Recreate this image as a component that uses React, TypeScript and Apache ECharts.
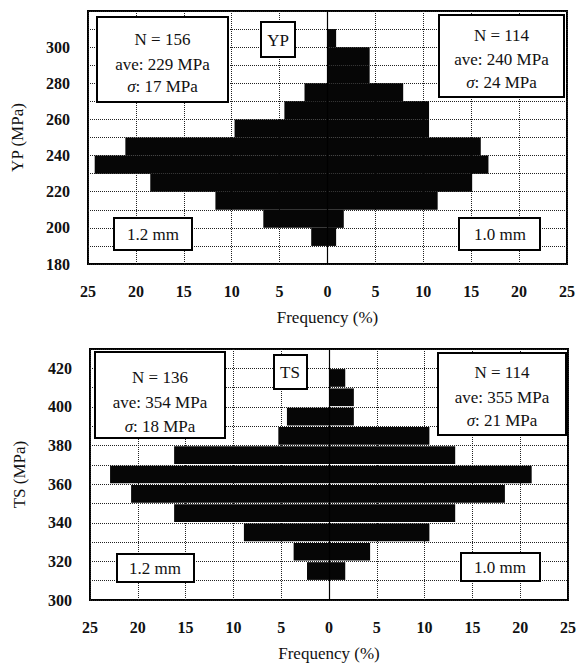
import React, { useEffect, useRef } from "react";
import * as echarts from "echarts";

// ---- data ----
const BIN_WIDTH = 10;
const YP_BINS = [190, 200, 210, 220, 230, 240, 250, 260, 270, 280, 290, 300];
const YP_12MM = [1.7, 6.7, 11.7, 18.5, 24.3, 21.1, 9.7, 4.5, 2.4, 0, 0, 0];
const YP_10MM = [0.9, 1.7, 11.5, 15.1, 16.8, 16.0, 10.6, 10.6, 7.9, 4.4, 4.4, 0.9];
const TS_BINS = [310, 320, 330, 340, 350, 360, 370, 380, 390, 400, 410];
const TS_12MM = [2.3, 3.7, 8.9, 16.2, 20.7, 22.9, 16.2, 5.3, 4.4, 0, 0];
const TS_10MM = [1.7, 4.3, 10.5, 13.2, 18.4, 21.2, 13.2, 10.5, 2.6, 2.6, 1.7];
const FREQ_TICKS = [-25, 25, 5];
const YP_RANGE = [180, 320];
const TS_RANGE = [300, 430];
const YP_STATS_12 = ["N = 156", "ave: 229 MPa", "17 MPa"];
const YP_STATS_10 = ["N = 114", "ave: 240 MPa", "24 MPa"];
const TS_STATS_12 = ["N = 136", "ave: 354 MPa", "18 MPa"];
const TS_STATS_10 = ["N = 114", "ave: 355 MPa", "21 MPa"];

const FONT = "Liberation Serif";

function buildBars(bins: number[], left: number[], right: number[]) {
  const out: number[][] = [];
  bins.forEach((lo, i) => {
    if (left[i] > 0) out.push([lo, lo + BIN_WIDTH, -left[i], 0]);
    if (right[i] > 0) out.push([lo, lo + BIN_WIDTH, 0, right[i]]);
  });
  return out;
}

const makeRender = (gap: number) => (params: any, api: any) => {
  const p0 = api.coord([api.value(2), api.value(1)]);
  const p1 = api.coord([api.value(3), api.value(0)]);
  return {
    type: "rect",
    shape: {
      x: p0[0],
      y: p0[1] + gap,
      width: p1[0] - p0[0],
      height: p1[1] - p0[1] - 2 * gap,
    },
    style: { fill: "#060606" },
  };
};

function xAxisCfg(gridIndex: number) {
  return {
    type: "value",
    gridIndex,
    min: FREQ_TICKS[0],
    max: FREQ_TICKS[1],
    interval: FREQ_TICKS[2],
    axisLine: { show: false },
    axisTick: { show: false },
    splitLine: { show: true, lineStyle: { type: "dotted", color: "#222", width: 1 } },
    axisLabel: {
      formatter: (v: number) => String(Math.abs(v)),
      fontFamily: FONT,
      fontSize: 16,
      fontWeight: "bold",
      color: "#111",
      margin: 19,
    },
    name: "Frequency (%)",
    nameLocation: "middle",
    nameGap: 45,
    nameTextStyle: { fontFamily: FONT, fontSize: 17, color: "#111" },
  };
}

function yAxisCfg(gridIndex: number, range: number[], name: string) {
  return {
    type: "value",
    gridIndex,
    min: range[0],
    max: range[1],
    interval: 10,
    axisLine: { show: false },
    axisTick: { show: false },
    splitLine: { show: true, lineStyle: { type: "dotted", color: "#222", width: 1 } },
    axisLabel: {
      formatter: (v: number) => (v % 20 === 0 && v < range[1] ? String(v) : ""),
      fontFamily: FONT,
      fontSize: 16,
      fontWeight: "bold",
      color: "#111",
      margin: 18,
      padding: [0, 0, 6, 0],
    },
    name,
    nameLocation: "middle",
    nameGap: 62,
    nameTextStyle: { fontFamily: FONT, fontSize: 17, color: "#111" },
  };
}

function boxRect(x: number, y: number, w: number, h: number) {
  return {
    type: "rect",
    z: 100,
    shape: { x, y, width: w, height: h },
    style: { fill: "#fff", stroke: "#000", lineWidth: 2 },
  };
}

function label(x: number, y: number, text: string, size = 17) {
  return {
    type: "text",
    z: 101,
    x,
    y,
    style: {
      text,
      fontFamily: FONT,
      fontSize: size,
      fill: "#111",
      textAlign: "center",
      align: "center",
      textVerticalAlign: "middle",
      verticalAlign: "middle",
      rich: {
        i: { fontFamily: FONT, fontSize: size, fontStyle: "italic", fill: "#111" },
        n: { fontFamily: FONT, fontSize: size, fill: "#111" },
      },
    },
  };
}

function statsBox(x: number, y: number, w: number, h: number, stats: string[], lineYs: number[]) {
  const cx = x + w / 2;
  return [
    boxRect(x, y, w, h),
    label(cx, lineYs[0], stats[0]),
    label(cx, lineYs[1], stats[1]),
    label(cx, lineYs[2], "{i|σ}{n|: " + stats[2] + "}"),
  ];
}

export default function App() {
  const ref = useRef<HTMLDivElement>(null);
  useEffect(() => {
    if (!ref.current) return;
    const chart = echarts.init(ref.current, undefined, { renderer: "svg" });
    const zeroLine = {
      silent: true,
      symbol: "none",
      label: { show: false },
      lineStyle: { color: "#000", type: "solid", width: 1.2 },
      data: [{ xAxis: 0 }],
    };
    chart.setOption({
      animation: false,
      backgroundColor: "#fff",
      textStyle: { fontFamily: FONT },
      grid: [
        { left: 88, top: 11, width: 479, height: 253, show: true, borderColor: "#000", borderWidth: 2 },
        { left: 90, top: 349, width: 482, height: 251, show: true, borderColor: "#000", borderWidth: 2 },
      ],
      xAxis: [xAxisCfg(0), xAxisCfg(1)],
      yAxis: [yAxisCfg(0, YP_RANGE, "YP (MPa)"), yAxisCfg(1, TS_RANGE, "TS (MPa)")],
      series: [
        {
          type: "custom",
          xAxisIndex: 0,
          yAxisIndex: 0,
          renderItem: makeRender(0),
          encode: { x: [2, 3], y: [0, 1] },
          data: buildBars(YP_BINS, YP_12MM, YP_10MM),
          markLine: zeroLine,
        },
        {
          type: "custom",
          xAxisIndex: 1,
          yAxisIndex: 1,
          renderItem: makeRender(0.8),
          encode: { x: [2, 3], y: [0, 1] },
          data: buildBars(TS_BINS, TS_12MM, TS_10MM),
          markLine: zeroLine,
        },
      ],
      graphic: [
        ...statsBox(97, 17, 131, 85, YP_STATS_12, [39, 64, 86]),
        ...statsBox(439, 15, 125, 82, YP_STATS_10, [35, 59, 82]),
        boxRect(261, 22, 34, 35),
        label(278, 40, "YP"),
        boxRect(114, 218, 78, 32),
        label(153, 234, "1.2 mm"),
        boxRect(459, 218, 81, 32),
        label(500, 234, "1.0 mm"),
        ...statsBox(95, 352, 130, 86, TS_STATS_12, [377, 402, 426]),
        ...statsBox(438, 353, 128, 82, TS_STATS_10, [372, 397, 420]),
        boxRect(274, 355, 33, 34),
        label(290, 372, "TS"),
        boxRect(117, 554, 77, 28),
        label(155, 568, "1.2 mm"),
        boxRect(461, 553, 79, 28),
        label(500, 567, "1.0 mm"),
      ],
    });
    return () => chart.dispose();
  }, []);
  return (
    <div
      ref={ref}
      style={{ position: "fixed", left: 0, top: 0, width: 579, height: 666, background: "#fff" }}
    />
  );
}
